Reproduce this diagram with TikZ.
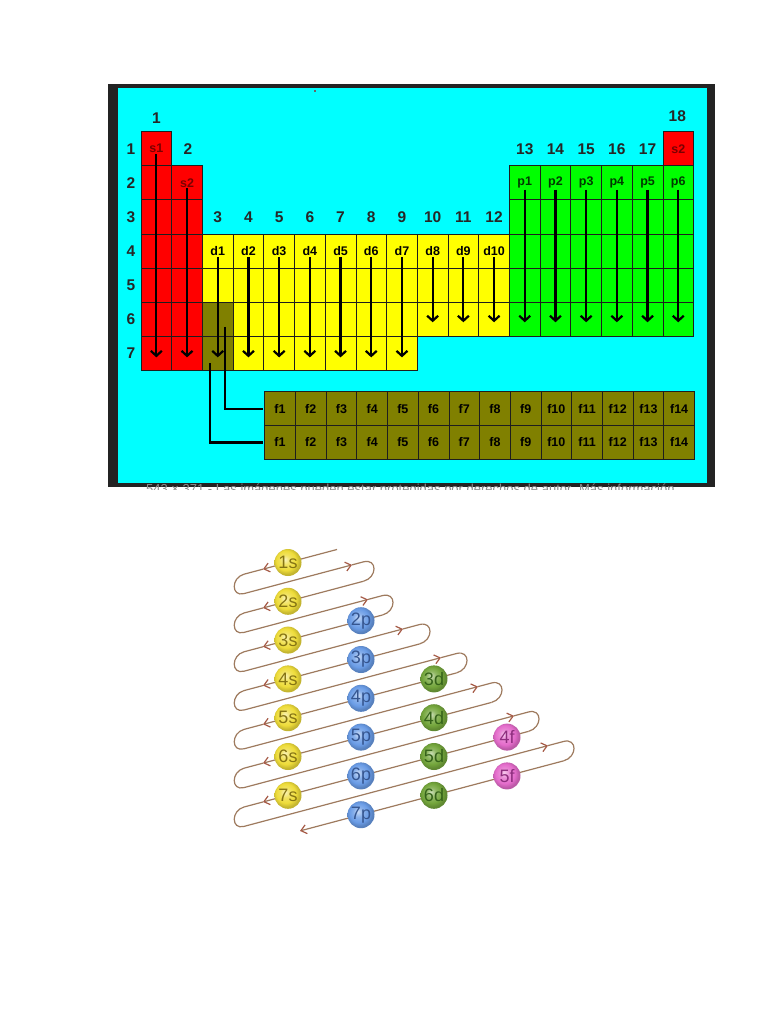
\documentclass[tikz,border=0pt]{standalone}
\usepackage{fontspec}
\setmainfont{Liberation Sans}
\usetikzlibrary{arrows.meta}
\newcommand\myfs[1]{\fontsize{#1}{#1}\selectfont}
\definecolor{cyanbg}{HTML}{00FFFF}
\definecolor{framec}{HTML}{232323}
\definecolor{sred}{HTML}{FF0000}
\definecolor{dyel}{HTML}{FFFF00}
\definecolor{pgrn}{HTML}{00FF00}
\definecolor{folive}{HTML}{808000}
\definecolor{cellline}{HTML}{1E1E1E}
\definecolor{stxt}{HTML}{7A0000}
\definecolor{ptxt}{HTML}{003A00}
\definecolor{spiralc}{HTML}{9E7A5E}
\definecolor{arrowc}{HTML}{A65A46}
\definecolor{ballc0}{HTML}{EEDC3A}
\definecolor{ballc1}{HTML}{6A9CE6}
\definecolor{ballc2}{HTML}{74A63C}
\definecolor{ballc3}{HTML}{E46CCB}
\definecolor{txtc0}{HTML}{857414}
\definecolor{txtc1}{HTML}{35558F}
\definecolor{txtc2}{HTML}{35621A}
\definecolor{txtc3}{HTML}{8E2E7E}
\pgfdeclareradialshading{ballS0}{\pgfpoint{-6bp}{6bp}}{color(0bp)=(ballc0!35!white); color(9bp)=(ballc0!80!white); color(18bp)=(ballc0); color(25bp)=(ballc0!82!black); color(50bp)=(ballc0!82!black)}
\pgfdeclareradialshading{ballS1}{\pgfpoint{-6bp}{6bp}}{color(0bp)=(ballc1!35!white); color(9bp)=(ballc1!80!white); color(18bp)=(ballc1); color(25bp)=(ballc1!82!black); color(50bp)=(ballc1!82!black)}
\pgfdeclareradialshading{ballS2}{\pgfpoint{-6bp}{6bp}}{color(0bp)=(ballc2!35!white); color(9bp)=(ballc2!80!white); color(18bp)=(ballc2); color(25bp)=(ballc2!82!black); color(50bp)=(ballc2!82!black)}
\pgfdeclareradialshading{ballS3}{\pgfpoint{-6bp}{6bp}}{color(0bp)=(ballc3!35!white); color(9bp)=(ballc3!80!white); color(18bp)=(ballc3); color(25bp)=(ballc3!82!black); color(50bp)=(ballc3!82!black)}
\begin{document}
\begin{tikzpicture}[x=1pt,y=-1pt,
  cellbox/.style={draw=cellline, line width=0.8pt, minimum width=30.7pt, minimum height=34.1pt, inner sep=0pt, outer sep=0pt},
  fcell/.style={cellbox, fill=folive, minimum height=33.8pt, font=\myfs{12.5}\bfseries, text=black},
  gnum/.style={font=\myfs{15.5}\bfseries, text=black!85, inner sep=0pt},
  slab/.style={font=\myfs{12.5}\bfseries, text=stxt, inner sep=0pt},
  plab/.style={font=\myfs{12.5}\bfseries, text=ptxt, inner sep=0pt},
  dlab/.style={font=\myfs{12.5}\bfseries, text=black, inner sep=0pt},
  tabarrow/.style={line width=2.2pt, draw=black, -{Straight Barb[length=5pt,width=11pt]}},
  tabline/.style={line width=2.2pt, draw=black, shorten >=2pt},
  spiral/.style={draw=spiralc, line width=1.2pt},
  sptip/.style={-{Straight Barb[length=5.5pt,width=9pt,color=arrowc]}},
  ballnode/.style={circle, minimum size=27pt, inner sep=0pt, font=\myfs{18}}
]
\useasboundingbox (0,0) rectangle (768,1024);
\fill[white] (0,0) rectangle (768,1024);
% frame
\fill[framec] (108,84) rectangle (715,487);
\fill[cyanbg] (118,88) rectangle (707,482.5);
\fill[black!60] (314,90) rectangle (316,92);
% caption (cut off)
\begin{scope}
  \clip (100,482.5) rectangle (720,489.5);
  \node[anchor=base west, font=\myfs{13}, text=black!45, inner sep=0pt] (cap) at (146,493) {543 × 371 - Las imágenes pueden estar protegidas por derechos de autor. Más información};
\end{scope}
% s block
\foreach \r in {1,...,7} \node[cellbox,fill=sred] (c-1-\r) at ({141+30.7*0.5},{131.7+34.1*(\r-0.5)}) {};
\foreach \r in {2,...,7} \node[cellbox,fill=sred] (c-2-\r) at ({141+30.7*1.5},{131.7+34.1*(\r-0.5)}) {};
\node[cellbox,fill=sred] (c-18-1) at ({141+30.7*17.5},{131.7+34.1*0.5}) {};
% d block
\foreach \i in {3,...,9} \foreach \r in {4,...,7}
  \node[cellbox,fill=dyel] (c-\i-\r) at ({141+30.7*(\i-0.5)},{131.7+34.1*(\r-0.5)}) {};
\foreach \i in {10,11,12} \foreach \r in {4,5,6}
  \node[cellbox,fill=dyel] (c-\i-\r) at ({141+30.7*(\i-0.5)},{131.7+34.1*(\r-0.5)}) {};
\foreach \r in {6,7}
  \node[cellbox,fill=folive] (c-3-\r) at ({141+30.7*2.5},{131.7+34.1*(\r-0.5)}) {};
% p block
\foreach \i in {13,...,18} \foreach \r in {2,...,6}
  \node[cellbox,fill=pgrn] (c-\i-\r) at ({141+30.7*(\i-0.5)},{131.7+34.1*(\r-0.5)}) {};
% f block
\foreach \r in {1,2} \foreach \j in {1,...,14}
  \node[fcell] (f-\j-\r) at ({264.7+30.7*(\j-0.5)},{391.7+33.8*(\r-0.5)}) {f\j};
% group numbers
\node[gnum] (g1) at ({141+30.7*0.5},118) {1};
\node[gnum] (g2) at ({141+30.7*1.5+1},149) {2};
\foreach \i in {3,...,12} \node[gnum] (g\i) at ({141+30.7*(\i-0.5)},217) {\i};
\foreach \i in {13,...,17} \node[gnum] (g\i) at ({141+30.7*(\i-0.5)},149.5) {\i};
\node[gnum] (g18) at ({141+30.7*17.5-1},116) {18};
% period numbers
\foreach \r in {1,...,7} \node[gnum] (per\r) at (131,{131.7+34.1*(\r-0.5)}) {\r};
% block labels
\node[slab] (ls1) at (c-1-1) {s1};
\node[slab] (ls2) at (c-2-2) {s2};
\node[slab] (ls18) at (c-18-1) {s2};
\foreach \j [evaluate=\j as \ii using int(\j+12)] in {1,...,6}
  \node[plab] (lp\j) at (c-\ii-2) {p\j};
\foreach \j [evaluate=\j as \ii using int(\j+2)] in {1,...,10}
  \node[dlab] (ld\j) at (c-\ii-4) {d\j};
% arrows in the table
\draw[tabarrow] ([yshift=-1pt]ls1.south) -- ([yshift=-4pt]c-1-7.center);
\draw[tabarrow] ([yshift=-1pt]ls2.south) -- ([yshift=-4pt]c-2-7.center);
\foreach \j [evaluate=\j as \ii using int(\j+2)] in {1,...,7}
  \draw[tabarrow] ([yshift=-1pt]ld\j.south) -- ([yshift=-4pt]c-\ii-7.center);
\foreach \j [evaluate=\j as \ii using int(\j+2)] in {8,9,10}
  \draw[tabarrow] ([yshift=-1pt]ld\j.south) -- ([yshift=-3pt]c-\ii-6.center);
\foreach \j [evaluate=\j as \ii using int(\j+12)] in {1,...,6}
  \draw[tabarrow] ([yshift=-1pt]lp\j.south) -- ([yshift=-3pt]c-\ii-6.center);
% lines from the olive cells to the f block
\coordinate (oa) at ([xshift=7.5pt,yshift=-7.5pt]c-3-6.center);
\coordinate (ob) at ([xshift=-8pt,yshift=-9.7pt]c-3-7.center);
\draw[tabline] (oa) |- (f-1-1.west);
\draw[tabline] (ob) |- (f-1-2.west);
% spiral (Aufbau diagram)
\def\m{0.2658}
\foreach \D/\xr/\xa [remember=\xr as \xprev (initially 347.5)] in {1/374/352, 2/393/368, 3/430/403, 4/467/441, 5/502/478, 6/539/514, 7/574/548}{
  \pgfmathsetmacro\yD{562.5+38.8*(\D-1)}
  \pgfmathsetmacro\xs{\xprev-10.5}
  \pgfmathsetmacro\ys{\yD-\m*(\xs-288)}
  \pgfmathsetmacro\ya{\yD-\m*(263-288)}
  \pgfmathsetmacro\yl{\yD-\m*(244-288)}
  \pgfmathsetmacro\ylr{\yl+19.4}
  \pgfmathsetmacro\yra{\yD+19.4-\m*(\xa-288)}
  \pgfmathsetmacro\xe{\xr-10.5}
  \pgfmathsetmacro\yre{\yD+19.4-\m*(\xe-288)}
  \pgfmathsetmacro\yne{\yre+19.4}
  \draw[spiral,sptip] (\xs,\ys) -- (263,\ya);
  \draw[spiral,sptip] (263,\ya) -- (244,\yl) .. controls +(-13,3.5) and +(-13,3.5) .. (244,\ylr) -- (\xa,\yra);
  \draw[spiral] (\xa,\yra) -- (\xe,\yre) .. controls +(14,-3.7) and +(14,-3.7) .. (\xe,\yne);
}
\pgfmathsetmacro\yE{562.5+38.8*7}
\pgfmathsetmacro\ysE{\yE-\m*(563.5-288)}
\pgfmathsetmacro\yeE{\yE-\m*(300-288)}
\draw[spiral,sptip] (563.5,\ysE) -- (300,\yeE);
% balls
\foreach \n/\c/\l in {1/0/s,2/0/s,3/0/s,4/0/s,5/0/s,6/0/s,7/0/s,
  2/1/p,3/1/p,4/1/p,5/1/p,6/1/p,7/1/p,
  3/2/d,4/2/d,5/2/d,6/2/d,
  4/3/f,5/3/f}
  \node[ballnode, shading=ballS\c, text=txtc\c] (b\n\l) at ({288+73*\c},{562.5+38.8*(\n-1)+19.4*\c}) {\n\l};
\end{tikzpicture}
\end{document}
